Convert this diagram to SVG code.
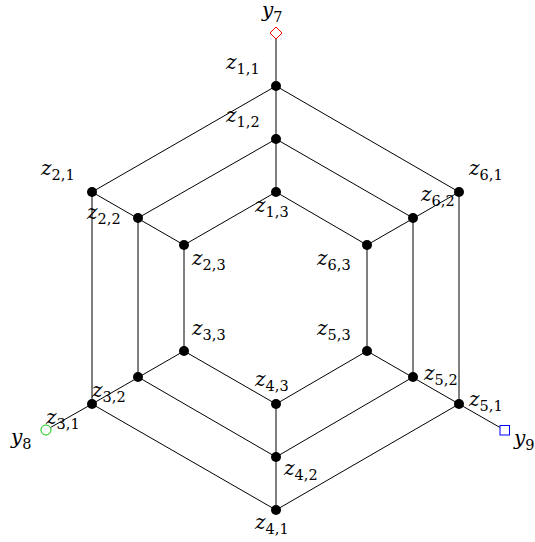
<svg xmlns="http://www.w3.org/2000/svg" width="535" height="542" viewBox="0 0 535 542">
<style>
.e{stroke:#000;stroke-width:1;fill:none}
.d{fill:#000}
.l{font-family:"DejaVu Serif",serif;font-style:italic;font-size:20px;fill:#000}
.s{font-style:normal;font-size:14.5px}
</style>
<g id="connectors" class="e">
<polygon points="276,86 459,192 459,404 276,510 92,404 92,192"/>
<polygon points="276,139 413,218 413,377 276,457 138,377 138,218"/>
<polygon points="276,192 367,245 367,351 276,404 184,351 184,245"/>
<path d="M276,86V192M459,192L367,245M459,404L367,351M276,510V404M92,404L184,351M92,192L184,245"/>
<path d="M276,86V39M92,404L50.5,427.5M459,404L500,427.5"/>
</g>
<g id="z11"><circle class="d" cx="276" cy="86" r="5"/><text class="l" x="226" y="69">z<tspan class="s" dy="5">1,1</tspan></text></g>
<g id="z12"><circle class="d" cx="276" cy="139" r="5"/><text class="l" x="226" y="122">z<tspan class="s" dy="5">1,2</tspan></text></g>
<g id="z13"><circle class="d" cx="276" cy="192" r="5"/><text class="l" x="255" y="212">z<tspan class="s" dy="5">1,3</tspan></text></g>
<g id="z21"><circle class="d" cx="92" cy="192" r="5"/><text class="l" x="41" y="175">z<tspan class="s" dy="5">2,1</tspan></text></g>
<g id="z22"><circle class="d" cx="138" cy="218" r="5"/><text class="l" x="87" y="219">z<tspan class="s" dy="5">2,2</tspan></text></g>
<g id="z23"><circle class="d" cx="184" cy="245" r="5"/><text class="l" x="192" y="265">z<tspan class="s" dy="5">2,3</tspan></text></g>
<g id="z33"><circle class="d" cx="184" cy="351" r="5"/><text class="l" x="192" y="335">z<tspan class="s" dy="5">3,3</tspan></text></g>
<g id="z32"><circle class="d" cx="138" cy="377" r="5"/><text class="l" x="92" y="397">z<tspan class="s" dy="5">3,2</tspan></text></g>
<g id="z31"><circle class="d" cx="92" cy="404" r="5"/><text class="l" x="46" y="424">z<tspan class="s" dy="5">3,1</tspan></text></g>
<g id="z43"><circle class="d" cx="276" cy="404" r="5"/><text class="l" x="255" y="386">z<tspan class="s" dy="5">4,3</tspan></text></g>
<g id="z42"><circle class="d" cx="276" cy="457" r="5"/><text class="l" x="284" y="475">z<tspan class="s" dy="5">4,2</tspan></text></g>
<g id="z41"><circle class="d" cx="276" cy="510" r="5"/><text class="l" x="255" y="529">z<tspan class="s" dy="5">4,1</tspan></text></g>
<g id="z53"><circle class="d" cx="367" cy="351" r="5"/><text class="l" x="317" y="335">z<tspan class="s" dy="5">5,3</tspan></text></g>
<g id="z52"><circle class="d" cx="413" cy="377" r="5"/><text class="l" x="424" y="380">z<tspan class="s" dy="5">5,2</tspan></text></g>
<g id="z51"><circle class="d" cx="459" cy="404" r="5"/><text class="l" x="469" y="406">z<tspan class="s" dy="5">5,1</tspan></text></g>
<g id="z63"><circle class="d" cx="367" cy="245" r="5"/><text class="l" x="317" y="265">z<tspan class="s" dy="5">6,3</tspan></text></g>
<g id="z62"><circle class="d" cx="413" cy="218" r="5"/><text class="l" x="421" y="201">z<tspan class="s" dy="5">6,2</tspan></text></g>
<g id="z61"><circle class="d" cx="459" cy="192" r="5"/><text class="l" x="469" y="175">z<tspan class="s" dy="5">6,1</tspan></text></g>
<g id="y7"><polygon points="276,27 282,33 276,39 270,33" fill="#fff" stroke="#f00" stroke-width="1"/><text class="l" x="262" y="17">y<tspan class="s" dy="5">7</tspan></text></g>
<g id="y8"><circle cx="46" cy="430" r="5" fill="#fff" stroke="#0c0" stroke-width="1"/><text class="l" x="11" y="444">y<tspan class="s" dy="5">8</tspan></text></g>
<g id="y9"><rect x="500" y="425.5" width="9.5" height="9.5" fill="#fff" stroke="#00f" stroke-width="1"/><text class="l" x="514" y="445">y<tspan class="s" dy="5">9</tspan></text></g>
</svg>
